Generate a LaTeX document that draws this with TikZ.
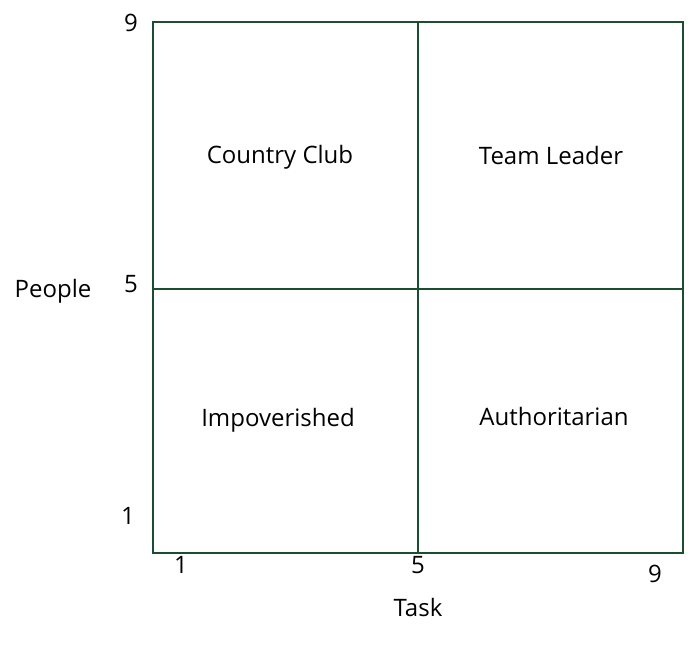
\documentclass[tikz,border=0pt]{standalone}
\usepackage{fontspec}
\setmainfont{Open Sans}
\definecolor{gridgreen}{HTML}{1B4D30}
\begin{document}
\begin{tikzpicture}[x=1pt,y=-1pt,
  gridline/.style={draw=gridgreen,line width=1.6pt},
  lbl/.style={font=\fontsize{24}{28}\selectfont,inner sep=0pt,anchor=center}]
\useasboundingbox (0,0) rectangle (691,646);
\coordinate (tl) at (153,22);
\coordinate (br) at (683,553);
\coordinate (mt) at (418,22);
\coordinate (mb) at (418,553);
\coordinate (ml) at (153,289);
\coordinate (mr) at (683,289);
\draw[gridline] (tl) rectangle (br);
\draw[gridline] (mt) -- (mb);
\draw[gridline] (ml) -- (mr);
\node[lbl] (cc) at (280,157) {Country Club};
\node[lbl] (tlead) at (551,155) {Team Leader};
\node[lbl] (imp) at (278,420) {Impoverished};
\node[lbl] (auth) at (554,416) {Authoritarian};
\node[lbl] (y9) at (131,23) {9};
\node[lbl] (y5) at (131,284) {5};
\node[lbl] (y1) at (128,516) {1};
\node[lbl] (people) at (53,291) {People};
\node[lbl] (x1) at (181,565) {1};
\node[lbl] (x5) at (418,565) {5};
\node[lbl] (x9) at (655,574) {9};
\node[lbl] (task) at (418,607) {Task};
\end{tikzpicture}
\end{document}
